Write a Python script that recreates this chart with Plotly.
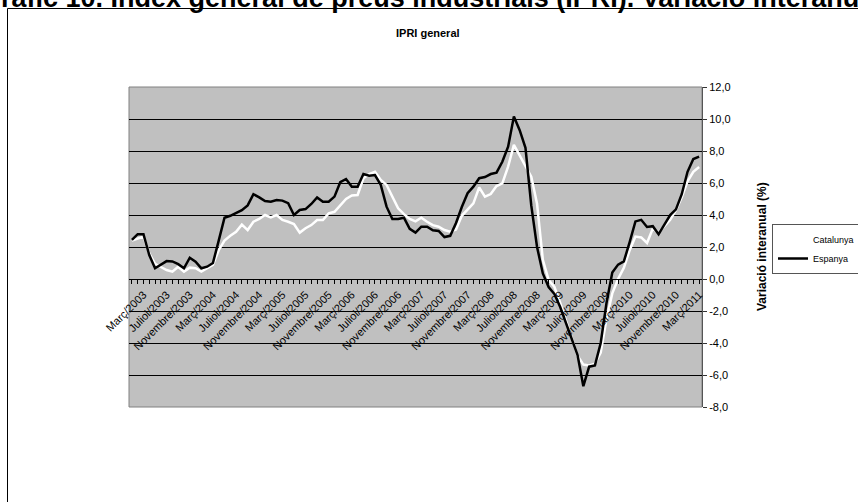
import plotly.graph_objects as go

# monthly categories, Gener/2003 .. Març/2011
month_names = ["Gener", "Febrer", "Març", "Abril", "Maig", "Juny",
               "Juliol", "Agost", "Setembre", "Octubre", "Novembre", "Desembre"]
months = [f"{month_names[i % 12]}/{2003 + i // 12}" for i in range(99)]
# only every 4th month carries a label (Març/2003, Juliol/2003, ...)
tick_text = [m if (i - 2) % 4 == 0 and i >= 2 else "" for i, m in enumerate(months)]

catalunya = [
    2.4, 2.55, 2.65, 1.6, 0.95, 0.75, 0.56, 0.46, 0.77, 0.46,
    0.71, 0.67, 0.46, 0.67, 0.88, 1.8, 2.4, 2.7, 2.95, 3.4,
    3.06, 3.58, 3.75, 4.0, 3.85, 4.0, 3.69, 3.58, 3.44, 2.9,
    3.17, 3.37, 3.69, 3.69, 4.1, 4.2, 4.6, 5.0, 5.22, 5.25,
    6.29, 6.56, 6.7, 6.19, 5.88, 5.15, 4.42, 4.05, 3.75, 3.6,
    3.83, 3.58, 3.37, 3.27, 3.06, 2.96, 3.1, 3.95, 4.35, 4.73,
    5.73, 5.15, 5.31, 5.81, 5.98, 7.02, 8.38, 7.75, 7.1, 6.4,
    4.7, 1.2, -0.06, -0.5, -1.5, -2.6, -3.7, -4.8, -5.35, -5.4,
    -5.3, -4.6, -2.5, -0.9, 0.0, 0.7, 1.8, 2.65, 2.6, 2.25,
    3.15, 2.9, 3.3, 3.7, 4.3, 5.1, 6.1, 6.7, 7.0,
]

espanya = [
    2.44, 2.8, 2.8, 1.5, 0.67, 0.87, 1.12, 1.1, 0.93, 0.67,
    1.33, 1.08, 0.67, 0.77, 1.0, 2.4, 3.83, 3.95, 4.1, 4.3,
    4.6, 5.3, 5.1, 4.87, 4.83, 4.94, 4.9, 4.74, 4.0, 4.31,
    4.37, 4.69, 5.1, 4.83, 4.83, 5.15, 6.05, 6.25, 5.77, 5.77,
    6.56, 6.46, 6.5, 5.88, 4.52, 3.75, 3.75, 3.83, 3.13, 2.9,
    3.27, 3.27, 3.05, 3.0, 2.62, 2.7, 3.5, 4.5, 5.36, 5.77,
    6.3, 6.37, 6.56, 6.65, 7.33, 8.27, 10.15, 9.3, 8.2, 4.6,
    2.0, 0.35, -0.5, -0.94, -1.75, -2.75, -3.7, -4.75, -6.7, -5.48,
    -5.4, -4.0, -1.5, 0.4, 0.9, 1.1, 2.3, 3.6, 3.7, 3.25,
    3.3, 2.8, 3.4, 4.0, 4.35, 5.3, 6.7, 7.5, 7.65,
]

y_ticks = [-8, -6, -4, -2, 0, 2, 4, 6, 8, 10, 12]
y_tick_text = ["-8,0", "-6,0", "-4,0", "-2,0", "0,0", "2,0", "4,0", "6,0", "8,0", "10,0", "12,0"]

FONT = "Liberation Sans, Arial, sans-serif"

fig = go.Figure()

fig.add_trace(go.Scatter(x=months, y=catalunya, name="Catalunya", mode="lines",
                         line=dict(color="white", width=2.5)))
fig.add_trace(go.Scatter(x=months, y=espanya, name="Espanya", mode="lines",
                         line=dict(color="black", width=2.5)))

# plot area 129..702 x 87..407 px
L, T, W, H = 129, 87, 573, 320


def px(x):
    return (x - L) / W


def py(y):
    return (T + H - y) / H


fig.update_layout(
    width=858, height=502,
    margin=dict(l=L, r=858 - L - W, t=T, b=502 - T - H, autoexpand=False),
    paper_bgcolor="white",
    plot_bgcolor="#C0C0C0",
    font=dict(family=FONT, color="black"),
    showlegend=True,
    legend=dict(x=px(772), xanchor="left", y=py(224), yanchor="top",
                bgcolor="white", bordercolor="#555555", borderwidth=1,
                font=dict(size=9, family=FONT), tracegroupgap=0),
    hovermode=False,
)

fig.update_xaxes(
    type="category",
    tickvals=months, ticktext=tick_text,
    tickangle=-45,
    tickfont=dict(size=11, family=FONT),
    ticks="outside", ticklen=4, tickcolor="black",
    showgrid=False, showline=True, linecolor="black", linewidth=1,
    anchor="free", position=0.4,
    range=[-0.5, 98.5],
)

fig.update_yaxes(
    side="right",
    range=[-8, 12],
    tickvals=y_ticks, ticktext=y_tick_text,
    tickfont=dict(size=11, family=FONT),
    ticks="outside", ticklen=4, tickcolor="#333333",
    showgrid=True, gridcolor="black", gridwidth=1,
    zeroline=False,
    showline=True, linecolor="#555555", linewidth=1,
)

# plot area border (left/top/bottom in grey)
fig.add_shape(type="rect", xref="paper", yref="paper", x0=0, y0=0, x1=1, y1=1,
              line=dict(color="#808080", width=1), layer="below")
# outer chart frame
fig.add_shape(type="rect", xref="paper", yref="paper",
              x0=px(7.5), y0=py(530), x1=px(880), y1=py(8.5),
              line=dict(color="black", width=1))

# page heading (cut off at the top of the picture)
fig.add_annotation(text="<b>Gràfic 10. Índex general de preus industrials (IPRI). Variació interanual</b>",
                   xref="paper", yref="paper", x=px(431), y=py(15),
                   xanchor="center", yanchor="bottom", showarrow=False,
                   font=dict(size=27, family=FONT, color="black"))
fig.add_annotation(text="<b>IPRI general</b>", xref="paper", yref="paper",
                   x=px(428), y=py(33), xanchor="center", yanchor="middle",
                   showarrow=False, font=dict(size=11, family=FONT))
fig.add_annotation(text="<b>Variació interanual (%)</b>", xref="paper", yref="paper",
                   x=px(762), y=0.5, xanchor="center", yanchor="middle",
                   textangle=-90, showarrow=False, font=dict(size=12, family=FONT))

# the page body has a default margin; remove it so the figure starts at (0, 0)
fig.write_html("out.html", config={"displayModeBar": False},
               post_script="document.body.style.margin='0px';")
